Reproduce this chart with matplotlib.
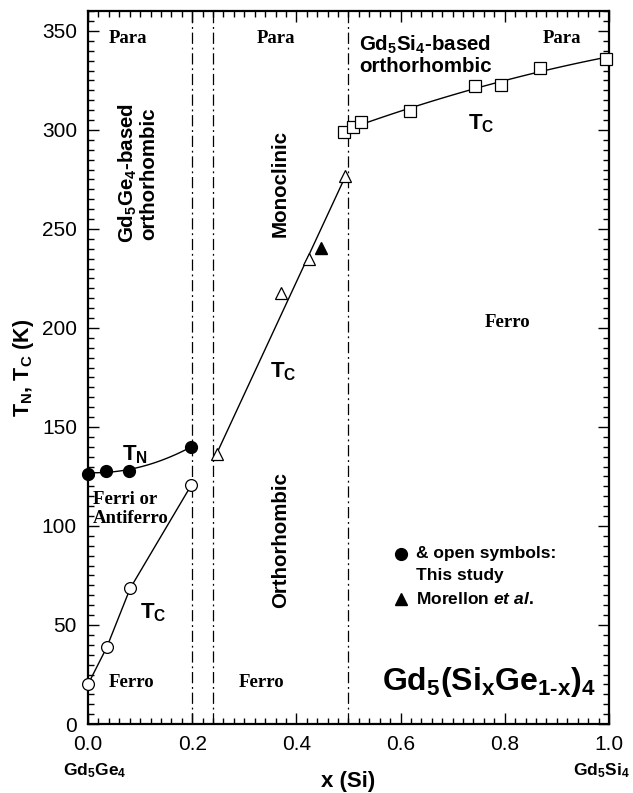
import matplotlib
matplotlib.use("Agg")
import matplotlib.pyplot as plt
import numpy as np

plt.rcParams['font.family'] = ['Liberation Sans', 'DejaVu Sans']
plt.rcParams['mathtext.fontset'] = 'custom'
plt.rcParams['mathtext.rm'] = 'Liberation Sans:weight=bold'
plt.rcParams['mathtext.it'] = 'Liberation Sans:style=italic:weight=bold'
plt.rcParams['mathtext.bf'] = 'Liberation Sans:weight=bold'

# Neel temperature (filled circles) and Curie temperature (open circles), Ge-rich side
x_tn = [0.0, 0.034, 0.079, 0.198]
tn = [126.5, 128, 128, 140]
x_tc_ge = [0.0, 0.036, 0.081, 0.198]
tc_ge = [20, 38.7, 68.5, 120.5]

# monoclinic / intermediate region (open triangles) and Morellon et al. (filled triangle)
x_tc_mono = [0.247, 0.37, 0.424, 0.494]
tc_mono = [136.5, 217.5, 235, 276.5]
x_morellon = [0.447]
tc_morellon = [240.5]

# Si-rich side (open squares)
x_tc_si = [0.491, 0.508, 0.525, 0.618, 0.743, 0.793, 0.868, 0.994]
tc_si = [299, 301.5, 304, 309.5, 322, 322.5, 331.5, 336]

# phase boundaries
x_bounds = [0.2, 0.24, 0.5]

xticks = [0.0, 0.2, 0.4, 0.6, 0.8, 1.0]
xticklabels = ['0.0', '0.2', '0.4', '0.6', '0.8', '1.0']
yticks = [0, 50, 100, 150, 200, 250, 300, 350]

fig = plt.figure(figsize=(6.33, 7.93), dpi=100)
ax = fig.add_axes([0.139, 0.087, 0.823, 0.899])

dashdot = (0, (9, 3, 1.5, 3))
for xb in x_bounds:
    ax.axvline(xb, color='black', lw=0.9, ls=dashdot)

# guide curves
xs = np.linspace(x_tn[0], x_tn[-1], 100)
p = np.polyfit(x_tn, tn, 2)
ax.plot(xs, np.polyval(p, xs), color='black', lw=1)

ax.plot(x_tc_ge, tc_ge, color='black', lw=1)

ax.plot([x_tc_mono[0], x_tc_mono[-1]], [tc_mono[0], tc_mono[-1]], color='black', lw=1)

xs = np.linspace(x_tc_si[0], x_tc_si[-1], 100)
p = np.polyfit(x_tc_si, tc_si, 2)
ax.plot(xs, np.polyval(p, xs), color='black', lw=1)

ax.plot(x_tn, tn, 'o', ms=8.5, mfc='black', mec='black', clip_on=False, zorder=5)
ax.plot(x_tc_ge, tc_ge, 'o', ms=8.5, mfc='white', mec='black', mew=0.9, clip_on=False, zorder=5)
ax.plot(x_tc_mono, tc_mono, '^', ms=9, mfc='white', mec='black', mew=0.9, zorder=5)
ax.plot(x_morellon, tc_morellon, '^', ms=9, mfc='black', mec='black', zorder=5)
ax.plot(x_tc_si, tc_si, 's', ms=8, mfc='white', mec='black', mew=0.9, clip_on=False, zorder=5)

ax.set_xlim(0, 1.0)
ax.set_ylim(0, 360)
ax.set_xticks(xticks)
ax.set_xticklabels(xticklabels)
ax.set_yticks(yticks)
ax.set_xticks(np.arange(0, 1.001, 0.02), minor=True)
ax.set_yticks(np.arange(0, 361, 5), minor=True)
ax.tick_params(which='both', direction='in', top=True, right=True, width=1)
ax.tick_params(which='major', length=8, labelsize=15, pad=8)
ax.tick_params(which='minor', length=4)
for s in ax.spines.values():
    s.set_linewidth(1.6)

ax.set_ylabel(r'T$_\mathregular{N}$, T$_\mathregular{C}$ (K)', fontsize=15.5, fontweight='bold', labelpad=4)
ax.set_xlabel('x (Si)', fontsize=16, fontweight='bold', labelpad=12)
fig.text(0.15, 0.028, r'Gd$_\mathregular{5}$Ge$_\mathregular{4}$', fontsize=12.5, fontweight='bold', ha='center', va='center')
fig.text(0.95, 0.028, r'Gd$_\mathregular{5}$Si$_\mathregular{4}$', fontsize=12.5, fontweight='bold', ha='center', va='center')

serif = dict(family='Liberation Serif', fontweight='bold', fontsize=13.5, ha='center', va='center')
ax.text(0.077, 346, 'Para', **serif)
ax.text(0.36, 346, 'Para', **serif)
ax.text(0.91, 346, 'Para', **serif)
ax.text(0.083, 21, 'Ferro', **serif)
ax.text(0.334, 21, 'Ferro', **serif)
ax.text(0.806, 203, 'Ferro', **serif)
ax.text(0.01, 108.5, 'Ferri or\nAntiferro', family='Liberation Serif', fontweight='bold',
        fontsize=13.5, ha='left', va='center', linespacing=1.1)

sans = dict(fontweight='bold', fontsize=14.8)
ax.text(0.095, 278, 'Gd$_\\mathregular{5}$Ge$_\\mathregular{4}$-based\northorhombic', rotation=90,
        ha='center', va='center', linespacing=1.0, **sans)
ax.text(0.369, 273, 'Monoclinic', rotation=90, ha='center', va='center', **sans)
ax.text(0.369, 93, 'Orthorhombic', rotation=90, ha='center', va='center', **sans)
ax.text(0.52, 338, 'Gd$_\\mathregular{5}$Si$_\\mathregular{4}$-based\northorhombic',
        ha='left', va='center', linespacing=1.05, **sans)

tsize = dict(fontweight='bold', fontsize=16, ha='center', va='center')
ax.text(0.755, 303, r'T$_\mathregular{C}$', **tsize)
ax.text(0.09, 136, r'T$_\mathregular{N}$', **tsize)
ax.text(0.125, 56, r'T$_\mathregular{C}$', **tsize)
ax.text(0.375, 178, r'T$_\mathregular{C}$', **tsize)

# symbol key
ax.plot([0.6], [86], 'o', ms=8.5, mfc='black', mec='black')
ax.plot([0.6], [63], '^', ms=9, mfc='black', mec='black')
ax.text(0.63, 86, '& open symbols:', ha='left', va='center', fontweight='bold', fontsize=12.5)
ax.text(0.63, 75, 'This study', ha='left', va='center', fontweight='bold', fontsize=12.5)
ax.text(0.63, 63, r'Morellon $\mathit{et\ al.}$', ha='left', va='center', fontweight='bold', fontsize=12.5)

ax.text(0.975, 21, r'Gd$_\mathregular{5}$(Si$_\mathregular{x}$Ge$_\text{1-x}$)$_\mathregular{4}$',
        ha='right', va='center', fontweight='bold', fontsize=23)

fig.savefig('out.png', dpi=100)
